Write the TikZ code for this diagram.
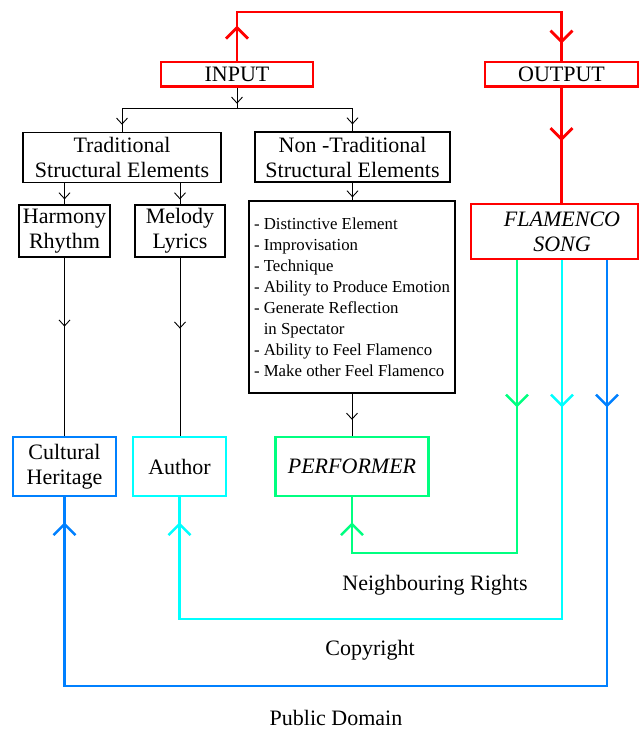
\documentclass[tikz,border=0pt]{standalone}
\usepackage{fontspec}
\setmainfont{Liberation Serif}
\usetikzlibrary{arrows.meta,decorations.markings}
\definecolor{flred}{RGB}{255,0,0}
\definecolor{flgreen}{RGB}{0,255,128}
\definecolor{flcyan}{RGB}{0,255,255}
\definecolor{flblue}{RGB}{0,128,255}
\tikzset{
  btip/.tip={Straight Barb[length=6pt,width=11pt]},
  ctip/.tip={Straight Barb[length=11pt,width=22pt]},
  bm/.style={postaction={decorate},decoration={markings,mark=at position #1 with {\arrow{btip}}}},
  cm/.style={postaction={decorate},decoration={markings,mark=at position #1 with {\arrow{ctip}}}},
  cmm/.style 2 args={postaction={decorate},decoration={markings,mark=at position #1 with {\arrow{ctip}},mark=at position #2 with {\arrow{ctip}}}},
  bigtext/.style={font=\fontsize{22}{25}\selectfont},
  smalltext/.style={font=\fontsize{16.8}{21}\selectfont},
  blackbox/.style={draw=black, line width=1.2pt, inner sep=0pt, align=center, bigtext},
  redbox/.style={draw=flred, line width=2.8pt, inner sep=0pt, align=center, bigtext},
  colbox/.style={draw=#1, line width=2.5pt, inner sep=0pt, align=center, bigtext},
  conn/.style={draw=black, line width=0.9pt},
  redline/.style={draw=flred, line width=2.8pt},
  colline/.style={draw=#1, line width=2.5pt},
  label/.style={inner sep=0pt, bigtext}
}
\begin{document}
\begin{tikzpicture}[x=1pt,y=-1pt]
\useasboundingbox (0,0) rectangle (640,729);
% boxes
\node[redbox, minimum width=152, minimum height=24.6] (in) at (237,74.3) {INPUT};
\node[redbox, minimum width=153, minimum height=24.6] (out) at (561.5,74.3) {OUTPUT};
\node[redbox, minimum width=167, minimum height=55] (flam) at (554.5,231.5)
  {\hspace*{15pt}\textit{FLAMENCO}\\\hspace*{15pt}\textit{SONG}};
\node[blackbox, minimum width=198, minimum height=50] (trad) at (122,157.3) {Traditional\\Structural Elements};
\node[blackbox, minimum width=195, minimum height=50] (ntrad) at (352.5,157) {Non -Traditional\\Structural Elements};
\node[blackbox, minimum width=91, minimum height=52] (harm) at (64.5,231) {Harmony\\Rhythm};
\node[blackbox, minimum width=90, minimum height=52] (mel) at (180,231) {Melody\\Lyrics};
\node[draw=black, line width=1.2pt, smalltext, inner xsep=4pt, inner ysep=0pt,
      minimum width=206, minimum height=192, align=left] (list) at (352,297)
  {- Distinctive Element\\
   - Improvisation\\
   - Technique\\
   - Ability to Produce Emotion\\
   - Generate Reflection\\
   \phantom{- }in Spectator\\
   - Ability to Feel Flamenco\\
   - Make other Feel Flamenco};
\node[colbox=flblue, minimum width=103, minimum height=59] (cult) at (64.5,466.5) {Cultural\\Heritage};
\node[colbox=flcyan, minimum width=93, minimum height=59] (auth) at (179.5,466.5) {Author};
\node[colbox=flgreen, minimum width=153, minimum height=59] (perf) at (352,466.5) {\textit{PERFORMER}};
% labels
\node[label] (nr) at (435,585) {Neighbouring Rights};
\node[label] (cr) at (370,650) {Copyright};
\node[label] (pd) at (336,718) {Public Domain};
% coordinates
\coordinate (rl) at (237,12);
\coordinate (rr) at (561.5,12);
\coordinate (split) at (237,108.7);
\coordinate (g1) at (517,553);
\coordinate (c1) at (562,619);
\coordinate (b1) at (607,686);
% red connectors
\draw[redline, cmm={35pt}{-17pt}] (in.north) -- (rl) -- (rr) -- (out.north);
\draw[redline, cm=53pt] (out.south) -- (out.south |- flam.north);
% black connectors
\draw[conn, bm=-5pt] (in.south) -- (split);
\draw[conn, bm=-7pt] (split) -| (trad.north);
\draw[conn, bm=-7pt] (split) -| (ntrad.north);
\draw[conn, bm=-5pt] (trad.south -| harm.north) -- (harm.north);
\draw[conn, bm=-5pt] (trad.south -| mel.north) -- (mel.north);
\draw[conn, bm=-3pt] (ntrad.south) -- (ntrad.south |- list.north);
\draw[conn, bm=69pt] (harm.south) -- (harm.south |- cult.north);
\draw[conn, bm=71pt] (mel.south) -- (mel.south |- auth.north);
\draw[conn, bm=-16pt] (list.south) -- (list.south |- perf.north);
% coloured return connectors
\draw[colline=flgreen, cmm={147pt}{-25pt}] (flam.south -| g1) -- (g1) -| (perf.south);
\draw[colline=flcyan, cmm={147pt}{-25pt}] (flam.south -| c1) -- (c1) -| (auth.south);
\draw[colline=flblue, cmm={147pt}{-25pt}] (flam.south -| b1) -- (b1) -| (cult.south);
\end{tikzpicture}
\end{document}
